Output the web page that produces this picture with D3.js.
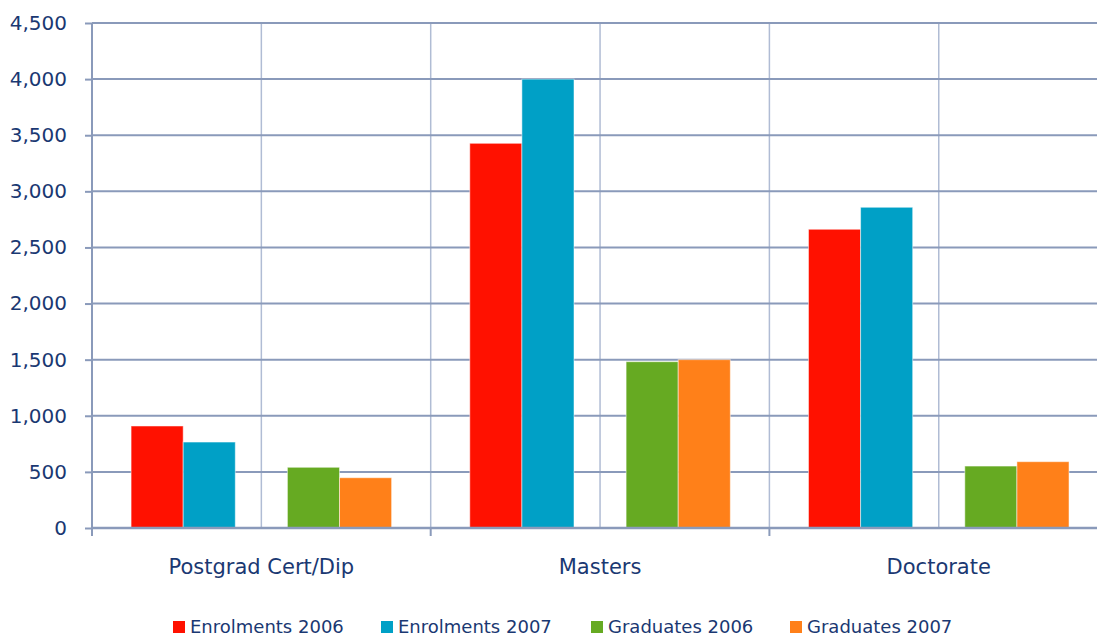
<!DOCTYPE html>
<html>
<head>
<meta charset="utf-8">
<script src="https://cdn.jsdelivr.net/npm/d3@7"></script>
<style>
  html, body { margin: 0; padding: 0; background: #fff; }
  svg { display: block; font-family: "DejaVu Sans", sans-serif; }
</style>
</head>
<body>
<svg id="chart" width="1097" height="639"></svg>
<script>
const categories = ["Postgrad Cert/Dip", "Masters", "Doctorate"]
const seriesNames = ["Enrolments 2006", "Enrolments 2007", "Graduates 2006", "Graduates 2007"]
const seriesColors = ["#ff1100", "#00a0c6", "#66aa22", "#ff8019"]
const enrolments2006 = [909, 3428, 2662]
const enrolments2007 = [766, 4000, 2858]
const graduates2006 = [541, 1482, 552]
const graduates2007 = [448, 1500, 591]
const yTicks = [0, 500, 1000, 1500, 2000, 2500, 3000, 3500, 4000, 4500]

// slot "" is the empty gap between enrolment and graduate bars
const slots = ["Enrolments 2006", "Enrolments 2007", "", "Graduates 2006", "Graduates 2007"]
const seriesValues = [enrolments2006, enrolments2007, graduates2006, graduates2007]

const svg = d3.select("#chart")
const margin = { top: 23, left: 92, bottom: 528 }
const bandW = 338.7
const textColor = "#1a3872"
const fontFamily = "'DejaVu Sans', sans-serif"

const x = d3.scaleBand().domain(categories).range([margin.left, margin.left + bandW * 3]).padding(0)
const xs = d3.scaleBand().domain(slots).range([0, x.bandwidth()]).paddingInner(0).paddingOuter(0.75)
const y = d3.scaleLinear().domain([0, 4500]).range([margin.bottom, margin.top])

// vertical gridlines: category boundaries and mid-points
const vLines = []
categories.forEach((c) => {
  vLines.push(x(c) + x.bandwidth() / 2)
  if (c !== categories[0]) vLines.push(x(c))
})
svg.append("g")
  .selectAll("line")
  .data(vLines)
  .join("line")
  .attr("x1", (d) => d).attr("x2", (d) => d)
  .attr("y1", margin.top).attr("y2", margin.bottom)
  .attr("stroke", "#b0bcd4")
  .attr("stroke-width", 1.5)

// horizontal gridlines + y axis
const yAxis = svg.append("g")
  .attr("transform", `translate(${margin.left},0)`)
  .call(d3.axisLeft(y).tickValues(yTicks).tickFormat(d3.format(",")).tickSize(7).tickPadding(10))
  .attr("font-family", fontFamily)
yAxis.select(".domain").remove()
yAxis.selectAll(".tick line").attr("stroke", "#8a9aba").attr("stroke-width", 2)
yAxis.selectAll(".tick text")
  .attr("fill", textColor)
  .style("font-size", "20px")
  .attr("dx", "-8")

svg.append("g")
  .selectAll("line")
  .data(yTicks.filter((d) => d > 0))
  .join("line")
  .attr("x1", margin.left).attr("x2", 1097)
  .attr("y1", (d) => y(d)).attr("y2", (d) => y(d))
  .attr("stroke", "#8a9aba")
  .attr("stroke-width", 2)

// bars
seriesNames.forEach((name, i) => {
  svg.append("g")
    .selectAll("rect")
    .data(seriesValues[i])
    .join("rect")
    .attr("x", (d, j) => x(categories[j]) + xs(name))
    .attr("y", (d) => y(d))
    .attr("width", xs.bandwidth())
    .attr("height", (d) => y(0) - y(d))
    .attr("fill", seriesColors[i])
    .attr("stroke", "rgba(255,255,255,0.5)")
    .attr("stroke-width", 1)
})

// vertical axis line
svg.append("line")
  .attr("x1", margin.left).attr("x2", margin.left)
  .attr("y1", margin.top).attr("y2", margin.bottom)
  .attr("stroke", "#8a9aba").attr("stroke-width", 2)

// x axis
const xAxis = svg.append("g")
  .attr("transform", `translate(0,${margin.bottom})`)
  .call(d3.axisBottom(x).tickSize(0).tickPadding(31))
  .attr("font-family", fontFamily)
xAxis.select(".domain").attr("stroke", "#8a9aba").attr("stroke-width", 2.5)
  .attr("d", `M${margin.left},0H1097`)
xAxis.selectAll(".tick text").attr("fill", textColor).style("font-size", "21px")
xAxis.selectAll(".boundary")
  .data(categories)
  .join("line")
  .attr("x1", (c) => x(c)).attr("x2", (c) => x(c))
  .attr("y1", 0).attr("y2", 8)
  .attr("stroke", "#8a9aba").attr("stroke-width", 2)

// legend
const legend = svg.append("g").attr("transform", "translate(0,627)")
const legendX = [173, 381, 591, 790]
seriesNames.forEach((name, i) => {
  const g = legend.append("g").attr("transform", `translate(${legendX[i]},0)`)
  g.append("rect").attr("x", 0).attr("y", -6).attr("width", 12).attr("height", 12).attr("fill", seriesColors[i])
  g.append("text")
    .attr("x", 17).attr("y", 0).attr("dy", "0.35em")
    .attr("fill", textColor)
    .style("font-size", "18px")
    .text(name)
})
</script>
</body>
</html>
